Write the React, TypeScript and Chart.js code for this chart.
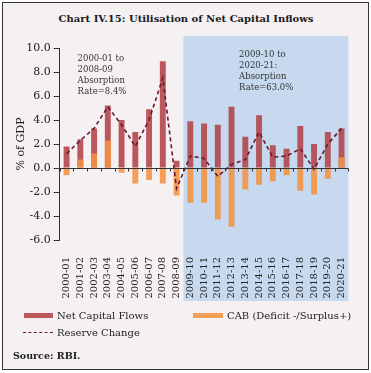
import React, { useEffect, useRef } from 'react';
import { Chart, registerables } from 'chart.js';

Chart.register(...registerables);

const categories = [
  '2000-01', '2001-02', '2002-03', '2003-04', '2004-05', '2005-06', '2006-07',
  '2007-08', '2008-09', '2009-10', '2010-11', '2011-12', '2012-13', '2013-14',
  '2014-15', '2015-16', '2016-17', '2017-18', '2018-19', '2019-20', '2020-21',
];
const netCapitalFlows = [1.8, 2.4, 3.3, 5.2, 4.0, 3.0, 4.9, 8.9, 0.6, 3.9, 3.7, 3.6, 5.1, 2.6, 4.4, 1.9, 1.6, 3.5, 2.0, 3.0, 3.3];
const cab = [-0.6, 0.7, 1.2, 2.3, -0.4, -1.3, -1.0, -1.3, -2.3, -2.9, -2.9, -4.3, -4.9, -1.8, -1.4, -1.1, -0.6, -1.9, -2.2, -0.9, 0.9];
const reserveChange = [1.2, 2.3, 3.3, 5.1, 3.6, 1.8, 4.0, 7.5, -1.7, 1.0, 0.8, -0.7, 0.3, 0.7, 3.0, 0.9, 1.0, 1.6, -0.1, 2.0, 3.3];
const yMin = -6;
const yMax = 10;
const yStep = 2;
const periodSplit = 8.5;
const noteLeft = ['2000-01 to', '2008-09', 'Absorption', 'Rate=8.4%'];
const noteRight = ['2009-10 to', '2020-21:', 'Absorption', 'Rate=63.0%'];

const RED = 'rgba(178,66,72,0.88)';
const ORANGE = 'rgba(244,146,66,0.88)';
const LINE = '#6a1a2c';
const SERIF = '"DejaVu Serif", serif';

const decorPlugin = {
  id: 'decor',
  beforeDraw(chart: any) {
    const { ctx, chartArea, scales } = chart;
    const x0 = scales.x.getPixelForValue(periodSplit);
    ctx.save();
    ctx.fillStyle = '#c6d9ee';
    ctx.fillRect(x0, chartArea.top - 12, chartArea.right - x0, chartArea.bottom - chartArea.top + 73);
    ctx.restore();
  },
  afterDatasetsDraw(chart: any) {
    const { ctx, chartArea, scales } = chart;
    const y0 = Math.round(scales.y.getPixelForValue(0)) + 0.5;
    ctx.save();
    ctx.strokeStyle = '#333';
    ctx.lineWidth = 1;
    ctx.beginPath();
    ctx.moveTo(chartArea.left, y0);
    ctx.lineTo(chartArea.right, y0);
    for (let i = 0; i <= categories.length; i++) {
      const x = Math.round(scales.x.getPixelForValue(i - 0.5)) + 0.5;
      ctx.moveTo(x, y0);
      ctx.lineTo(x, y0 + 3);
    }
    ctx.stroke();
    ctx.fillStyle = '#333';
    ctx.font = '8.5px ' + SERIF;
    ctx.textBaseline = 'middle';
    ctx.textAlign = 'left';
    const lh = 10.8;
    const lx = scales.x.getPixelForValue(0.8);
    const ly = scales.y.getPixelForValue(9.08);
    noteLeft.forEach((t, i) => ctx.fillText(t, lx, ly + i * lh));
    const rx = scales.x.getPixelForValue(12.55);
    const ry = scales.y.getPixelForValue(9.4);
    noteRight.forEach((t, i) => ctx.fillText(t, rx, ry + i * lh));
    ctx.restore();
  },
};

export default function App() {
  const ref = useRef<HTMLCanvasElement>(null);
  useEffect(() => {
    if (!ref.current) return;
    const chart = new Chart(ref.current, {
      type: 'bar',
      data: {
        labels: categories,
        datasets: [
          {
            type: 'line',
            label: 'Reserve Change',
            data: reserveChange,
            borderColor: LINE,
            borderWidth: 1.6,
            borderDash: [4, 3],
            pointRadius: 0,
            fill: false,
            tension: 0,
            order: 0,
          } as any,
          {
            type: 'bar',
            label: 'CAB (Deficit -/Surplus+)',
            data: cab,
            backgroundColor: ORANGE,
            barPercentage: 0.43,
            categoryPercentage: 1,
            order: 1,
          },
          {
            type: 'bar',
            label: 'Net Capital Flows',
            data: netCapitalFlows,
            backgroundColor: RED,
            barPercentage: 0.43,
            categoryPercentage: 1,
            order: 2,
          },
        ],
      },
      options: {
        responsive: false,
        animation: false,
        maintainAspectRatio: false,
        layout: { padding: { left: 8, right: 19, top: 48, bottom: 73 } },
        plugins: { legend: { display: false }, tooltip: { enabled: false }, title: { display: false } },
        scales: {
          x: {
            stacked: true,
            offset: true,
            grid: { display: false, drawTicks: false },
            border: { display: false },
            ticks: {
              autoSkip: false,
              maxRotation: 90,
              minRotation: 90,
              padding: 17,
              color: '#222',
              font: { family: SERIF, size: 10 },
            },
            afterFit: (s: any) => { s.height = 60; },
          },
          y: {
            stacked: false,
            min: yMin,
            max: yMax,
            ticks: {
              stepSize: yStep,
              color: '#222',
              padding: 3,
              font: { family: SERIF, size: 11 },
              callback: (v: any) => Number(v).toFixed(1),
            },
            grid: { drawOnChartArea: false, tickColor: '#333', tickLength: 6 },
            border: { display: true, color: '#333', width: 1 },
            title: {
              display: true,
              text: '% of GDP',
              color: '#222',
              font: { family: SERIF, size: 11 },
              padding: { top: 7, bottom: 0 },
            },
            afterFit: (s: any) => { s.width = 51.7; },
          },
        },
      },
      plugins: [decorPlugin],
    });
    return () => chart.destroy();
  }, []);

  const txt: React.CSSProperties = {
    position: 'absolute',
    fontFamily: SERIF,
    fontSize: 10,
    color: '#222',
    whiteSpace: 'nowrap',
    lineHeight: '12px',
  };

  return (
    <div style={{ position: 'absolute', left: 0, top: 0, width: 371, height: 373, background: '#fff' }}>
      <div
        style={{
          position: 'absolute', left: 2, top: 2, width: 365, height: 366,
          border: '1.5px solid #333', background: '#f5f1f2',
        }}
      />
      <div
        style={{
          ...txt, left: 0, top: 12, width: 372, textAlign: 'center',
          fontWeight: 'bold', fontSize: 10, color: '#1a1a1a', lineHeight: '14px',
        }}
      >
        Chart IV.15: Utilisation of Net Capital Inflows
      </div>
      <canvas ref={ref} width={371} height={373} style={{ position: 'absolute', left: 0, top: 0 }} />
      <div style={{ position: 'absolute', left: 24, top: 313, width: 29, height: 5, background: RED }} />
      <div style={{ ...txt, left: 57, top: 310 }}>Net Capital Flows</div>
      <div style={{ position: 'absolute', left: 193, top: 313, width: 30, height: 5, background: ORANGE }} />
      <div style={{ ...txt, left: 227, top: 310 }}>CAB (Deficit -/Surplus+)</div>
      <div style={{ position: 'absolute', left: 23, top: 332, width: 30, height: 0, borderTop: '1.5px dashed ' + LINE }} />
      <div style={{ ...txt, left: 57, top: 327 }}>Reserve Change</div>
      <div style={{ ...txt, left: 13, top: 350, fontWeight: 'bold', fontSize: 9.5 }}>Source: RBI.</div>
    </div>
  );
}
